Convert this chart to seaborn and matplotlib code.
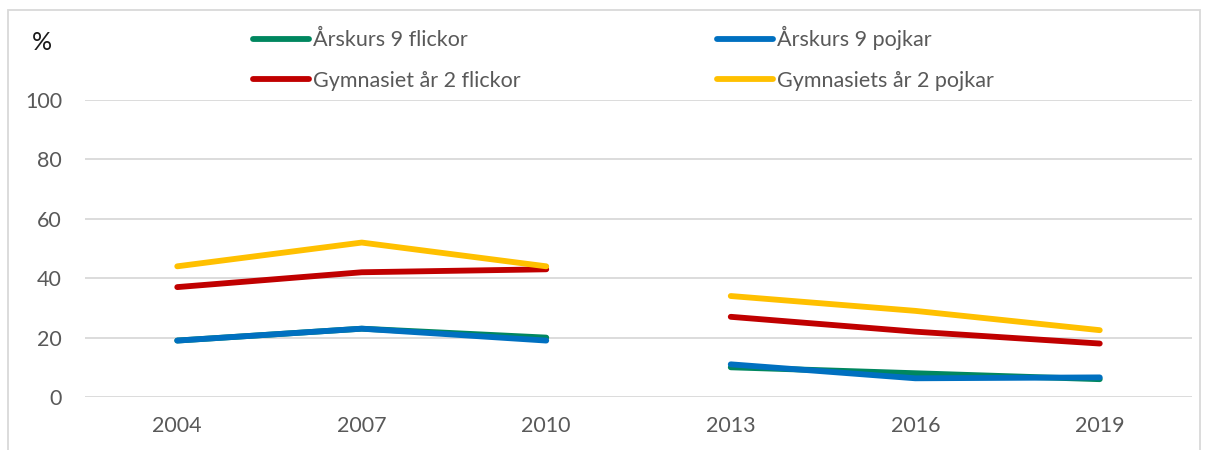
import pandas as pd
import matplotlib.pyplot as plt
import matplotlib.patches as mpatches
import seaborn as sns

# data
years = ['2004', '2007', '2010', '2013', '2016', '2019']
period = [1, 1, 1, 2, 2, 2]  # the lines break between 2010 and 2013
ak9_flickor = [19, 23, 20, 10, 8, 6]
ak9_pojkar = [19, 23, 19, 11, 6.3, 6.6]
gy2_flickor = [37, 42, 43, 27, 22, 18]
gy2_pojkar = [44, 52, 44, 34, 29, 22.5]

series = {
    'Årskurs 9 flickor': ak9_flickor,
    'Gymnasiet år 2 flickor': gy2_flickor,
    'Årskurs 9 pojkar': ak9_pojkar,
    'Gymnasiets år 2 pojkar': gy2_pojkar,
}
colors = {
    'Årskurs 9 flickor': '#00875F',
    'Gymnasiet år 2 flickor': '#C00000',
    'Årskurs 9 pojkar': '#0070C0',
    'Gymnasiets år 2 pojkar': '#FFC000',
}

rows = []
for name, vals in series.items():
    for yr, p, v in zip(years, period, vals):
        rows.append({'year': yr, 'period': p, 'serie': name, 'value': v})
df = pd.DataFrame(rows)

sns.set_theme(style='white')
plt.rcParams['font.family'] = ['Lato', 'DejaVu Sans']
text_col = '#595959'
fs = 15.5

fig = plt.figure(figsize=(12.08, 4.5), dpi=100)
ax = fig.add_axes([85 / 1208, 1 - 397 / 450, (1192 - 85) / 1208, (397 - 100) / 450])

sns.lineplot(data=df, x='year', y='value', hue='serie', units='period',
             estimator=None, palette=colors, hue_order=list(series.keys()),
             linewidth=4.2, solid_capstyle='round', ax=ax)

ax.set_ylim(0, 100)
ax.set_xlim(-0.5, 5.5)
ax.set_yticks(range(0, 101, 20))
ax.grid(axis='y', color='#D9D9D9', linewidth=1.3)
ax.set_axisbelow(True)
for s in ax.spines.values():
    s.set_visible(False)
ax.set_xlabel('')
ax.set_ylabel('')
ax.tick_params(axis='x', length=0, pad=14, labelsize=fs, labelcolor=text_col)
ax.tick_params(axis='y', length=0, pad=16.5, labelsize=fs, labelcolor=text_col)

handles, labels = ax.get_legend_handles_labels()
ax.legend(handles, labels, ncol=2, loc='upper left', frameon=False,
          bbox_to_anchor=(253 / 1208, 1 - 26 / 450), bbox_transform=fig.transFigure,
          fontsize=fs, labelcolor=text_col, handlelength=2.6, handletextpad=0.19,
          columnspacing=9.1, labelspacing=0.95, borderpad=0, borderaxespad=0)

fig.text(42 / 1208, 1 - 43 / 450, '%', fontsize=18, color='#1a1a1a',
         ha='center', va='center')

# light frame around the chart area
fig.patches.append(mpatches.Rectangle((8 / 1208, -0.01), (1200 - 8) / 1208, 1 - 10 / 450 + 0.01,
                                      transform=fig.transFigure, fill=False,
                                      edgecolor='#D9D9D9', linewidth=1.3))

fig.savefig('out.png', dpi=100)
